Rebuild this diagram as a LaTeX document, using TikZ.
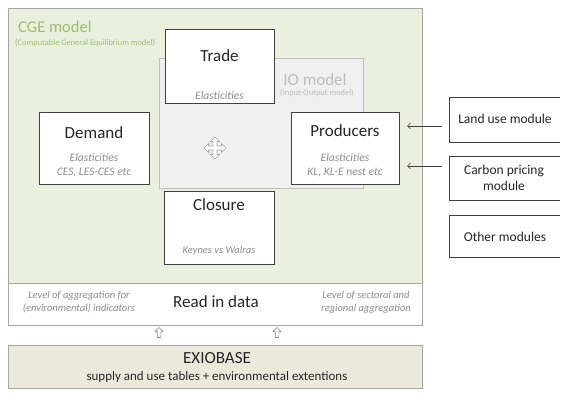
\documentclass[tikz,border=0pt]{standalone}
\usepackage{fontspec}
\setmainfont{Carlito}
\usetikzlibrary{arrows.meta}
\definecolor{cgefill}{HTML}{EBF0DE}
\definecolor{cgetext}{HTML}{9EBD6E}
\definecolor{iofill}{HTML}{F0F0F0}
\definecolor{ioline}{HTML}{BFBFBF}
\definecolor{iotext}{HTML}{BDBDBD}
\definecolor{boxline}{HTML}{404040}
\definecolor{softgray}{HTML}{8C8C8C}
\definecolor{exiofill}{HTML}{EBE8DC}
\definecolor{frameline}{HTML}{A6A6A6}
\begin{document}
\begin{tikzpicture}[x=1pt,y=-1pt,
  mbox/.style={draw=boxline,fill=white,line width=0.8pt,inner sep=0pt},
  frame/.style={draw=frameline,line width=0.8pt,inner sep=0pt},
  ttl/.style={font=\fontsize{17}{20}\selectfont,text=black!85,inner sep=0pt},
  subt/.style={font=\itshape\fontsize{11.5}{14}\selectfont,text=softgray,align=center,inner sep=0pt},
  modt/.style={font=\fontsize{13.5}{16}\selectfont,text=black!85,align=center,inner sep=0pt},
  conn/.style={-{Straight Barb[length=3pt,width=6pt]},draw=boxline,line width=0.7pt},
  hollowup/.style={draw=softgray,fill=white,line width=0.6pt,line join=round}
]
\useasboundingbox (0,0) rectangle (583,396);
\fill[white] (0,0) rectangle (583,396);

% CGE frame and read-in area
\node[frame,fill=cgefill,minimum width=414pt,minimum height=275pt] (cge) at (215,145.5) {};
\node[frame,fill=white,minimum width=414pt,minimum height=42pt] (read) at (215,304) {};
\node[font=\fontsize{16.5}{19}\selectfont,text=cgetext,anchor=west,inner sep=0pt] (cgetitle) at (18,27) {CGE model};
\node[font=\fontsize{8.4}{10}\selectfont,text=cgetext,anchor=west,inner sep=0pt] (cgesub) at (15,43) {(Computable General Equilibrium model)};

% IO model
\node[draw=ioline,fill=iofill,line width=0.8pt,minimum width=204pt,minimum height=130pt,inner sep=0pt] (io) at (261,123) {};
\node[font=\fontsize{17}{20}\selectfont,text=iotext,inner sep=0pt] (iotitle) at (315,80) {IO model};
\node[font=\fontsize{8.4}{10}\selectfont,text=iotext,inner sep=0pt] (iosub) at (317,93.5) {(Input-Output model)};

% move icon
\draw[draw=gray!70,fill=white,line width=0.6pt,shift={(215,148)}]
  (0,-11) -- (4.5,-6.5) -- (2,-6.5) -- (2,-2) -- (6.5,-2) -- (6.5,-4.5) -- (11,0)
  -- (6.5,4.5) -- (6.5,2) -- (2,2) -- (2,6.5) -- (4.5,6.5) -- (0,11) -- (-4.5,6.5)
  -- (-2,6.5) -- (-2,2) -- (-6.5,2) -- (-6.5,4.5) -- (-11,0) -- (-6.5,-4.5)
  -- (-6.5,-2) -- (-2,-2) -- (-2,-6.5) -- (-4.5,-6.5) -- cycle;

% Trade
\node[mbox,minimum width=109pt,minimum height=74pt] (trade) at (219.5,66) {};
\node[ttl] (tradet) at (219.5,56) {Trade};
\node[subt] (trades) at (219.5,96) {Elasticities};

% Producers
\node[mbox,minimum width=108pt,minimum height=72pt] (prod) at (345,148) {};
\node[ttl] (prodt) at (345,131) {Producers};
\node[subt] (prods) at (345,165.5) {Elasticities\\KL, KL-E nest etc};

% Demand
\node[mbox,minimum width=110pt,minimum height=72pt] (dem) at (94,148) {};
\node[ttl] (demt) at (94,133) {Demand};
\node[subt] (dems) at (94,165.5) {Elasticities\\CES, LES-CES etc};

% Closure
\node[mbox,minimum width=110pt,minimum height=73pt] (clo) at (219,227.5) {};
\node[ttl] (clot) at (219,205) {Closure};
\node[subt,font=\itshape\fontsize{10.5}{13}\selectfont] (clos) at (219,251) {Keynes vs Walras};

% Modules (right side open, cut by picture edge)
\node[minimum width=110pt,minimum height=44pt,inner sep=0pt] (land) at (505,120) {};
\node[minimum width=110pt,minimum height=43pt,inner sep=0pt] (carb) at (505,178.5) {};
\node[minimum width=110pt,minimum height=41pt,inner sep=0pt] (oth) at (505,236.5) {};
\foreach \m in {land,carb,oth}
  \draw[draw=boxline,line width=0.8pt] (\m.north east) -| (\m.south west) -- (\m.south east);
\node[modt] (landt) at (505,119) {Land use module};
\node[modt] (carbt) at (504,178) {Carbon pricing\\module};
\node[modt] (otht) at (505,237) {Other modules};

\coordinate (a1s) at (442,126);
\coordinate (a1e) at (407,126);
\coordinate (a2s) at (442,166);
\coordinate (a2e) at (407,166);
\draw[conn] (a1s) -- (a1e);
\draw[conn] (a2s) -- (a2e);

% Read in data
\node[ttl] (readt) at (216,302) {Read in data};
\node[subt,font=\itshape\fontsize{10.5}{13}\selectfont] (readl) at (79,302.5) {Level of aggregation for\\(environmental) indicators};
\node[subt,font=\itshape\fontsize{10.5}{13}\selectfont] (readr) at (366,302.5) {Level of sectoral and\\regional aggregation};

% EXIOBASE
\node[frame,fill=exiofill,minimum width=414pt,minimum height=43pt] (exio) at (215,366.5) {};
\node[font=\fontsize{17}{20}\selectfont,text=black!85,inner sep=0pt] (exiot) at (217,358) {EXIOBASE};
\node[font=\fontsize{13}{16}\selectfont,text=black!85,inner sep=0pt] (exios) at (217,377.5) {supply and use tables + environmental extentions};

% hollow up arrows
\foreach \ax in {159,277}
  \draw[hollowup,shift={(\ax,332.5)}]
    (0,-5) -- (4,-0.8) -- (1.8,-0.8) -- (1.8,5) -- (-1.8,5) -- (-1.8,-0.8) -- (-4,-0.8) -- cycle;
\end{tikzpicture}
\end{document}
